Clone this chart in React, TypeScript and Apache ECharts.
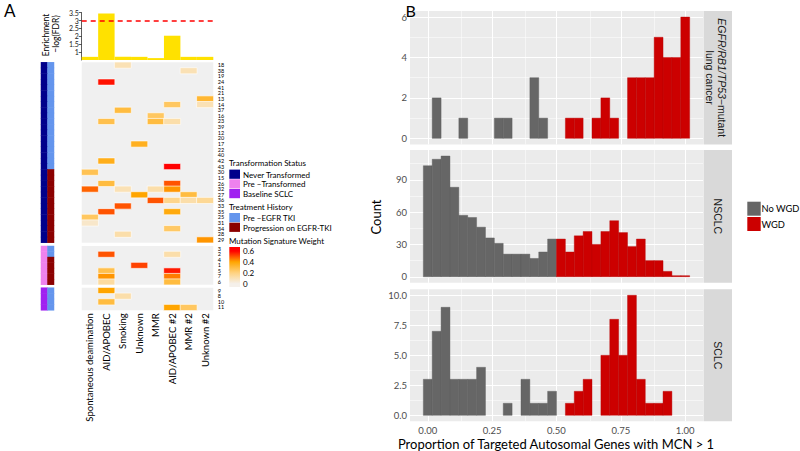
import React, { useEffect, useRef } from 'react';
import * as echarts from 'echarts';

// ---------- Panel A data ----------
const signatures = ['Spontaneous deamination', 'AID/APOBEC', 'Smoking', 'Unknown', 'MMR', 'AID/APOBEC #2', 'MMR #2', 'Unknown #2'];
const enrichment = [0.7, 3.45, 0.7, 0.7, 0.62, 2.04, 0.7, 0.7];
const fdrThreshold = 3;
const enrichTicks = [1, 1.5, 2, 2.5, 3, 3.5];

const neverRows = ['18', '38', '19', '24', '41', '21', '13', '14', '37', '16', '23', '39', '12', '20', '17', '22', '40', '42', '43', '30', '15', '26', '32', '27', '36', '33', '35', '25', '31', '34', '28', '29'];
const preRows = ['3', '2', '4', '1', '5', '7', '6'];
const sclcRows = ['9', '8', '10', '11'];

const neverTreatment = ['pre', 'pre', 'pre', 'pre', 'pre', 'pre', 'pre', 'pre', 'pre', 'pre', 'pre', 'pre', 'pre', 'pre', 'pre', 'pre', 'pre', 'pre', 'pre', 'prog', 'prog', 'prog', 'prog', 'prog', 'prog', 'prog', 'prog', 'prog', 'prog', 'prog', 'prog', 'prog', 'prog'];
const preTreatment = ['pre', 'pre', 'prog', 'prog', 'prog', 'prog', 'prog'];
const sclcTreatment = ['pre', 'pre', 'pre', 'pre'];

// [row label, signature index, weight]
const neverWeights: [string, number, number][] = [
  ['18', 2, 0.1], ['38', 6, 0.1], ['24', 1, 0.58], ['13', 7, 0.32], ['14', 5, 0.25], ['14', 7, 0.1],
  ['37', 2, 0.3], ['16', 4, 0.25], ['23', 1, 0.28], ['23', 4, 0.3], ['23', 5, 0.12], ['17', 3, 0.35],
  ['42', 1, 0.36], ['43', 5, 0.62], ['30', 0, 0.27], ['26', 1, 0.3], ['26', 5, 0.5], ['32', 0, 0.48],
  ['32', 2, 0.1], ['32', 4, 0.12], ['32', 5, 0.42], ['27', 3, 0.4], ['27', 6, 0.3], ['36', 4, 0.5],
  ['36', 5, 0.18], ['36', 6, 0.12], ['36', 7, 0.16], ['33', 2, 0.5], ['35', 1, 0.5], ['35', 5, 0.38],
  ['25', 0, 0.25], ['31', 0, 0.06], ['34', 5, 0.24], ['28', 2, 0.12], ['29', 7, 0.42],
];
const preWeights: [string, number, number][] = [
  ['2', 1, 0.5], ['2', 5, 0.12], ['1', 3, 0.52], ['5', 1, 0.28], ['5', 5, 0.57],
  ['7', 1, 0.42], ['7', 5, 0.45], ['6', 1, 0.14], ['6', 5, 0.3],
];
const sclcWeights: [string, number, number][] = [
  ['9', 1, 0.4], ['8', 2, 0.12], ['10', 1, 0.3], ['11', 5, 0.4], ['11', 6, 0.25],
];
const weightColors = ['#F5F0EA', '#FFD280', '#FFA500', '#FF0000'];
const weightLegendLabels = ['0.6', '0.4', '0.2', '0'];

// ---------- Panel B data ----------
const BIN_WIDTH = 1 / 29;
const WGD_CUTOFF = 0.5;
const egfrCounts = [0, 2, 0, 0, 1, 0, 0, 0, 1, 1, 0, 0, 3, 1, 0, 0, 1, 1, 0, 1, 2, 1, 0, 3, 3, 3, 5, 4, 4, 6];
const nsclcCounts = [103, 109, 112, 83, 57, 55, 46, 36, 31, 21, 21, 21, 17, 23, 35, 35, 23, 38, 42, 30, 42, 52, 41, 28, 35, 15, 15, 5, 1, 1];
const sclcCounts = [3, 7, 9, 3, 3, 3, 4, 0, 0, 1, 0, 3, 1, 1, 2, 0, 1, 2, 3, 0, 5, 8, 5, 10, 3, 1, 1, 2, 0, 0];
const xTicks = [0, 0.25, 0.5, 0.75, 1];
const xMinor = [0.125, 0.375, 0.625, 0.875];
const egfrTicks = [0, 2, 4, 6];
const egfrMinor = [1, 3, 5];
const nsclcTicks = [0, 30, 60, 90];
const nsclcMinor = [15, 45, 75, 105];
const sclcTicks = [0, 2.5, 5, 7.5, 10];
const sclcMinor = [1.25, 3.75, 6.25, 8.75];

const FONT = 'Lato';
const NAVY = '#00008B', VIOLET = '#EE82EE', PURPLE = '#A020F0', BLUE = '#6495ED', DKRED = '#8B0000';
const GRAY = '#666666', RED = '#CC0000';

function buildOption() {
  const hmLeft = 81.7, hmWidth = 131.6;
  const blocks = [
    { rows: neverRows, weights: neverWeights, status: 0, treat: neverTreatment, top: 62.3, height: 180.4 },
    { rows: preRows, weights: preWeights, status: 1, treat: preTreatment, top: 246, height: 38.7 },
    { rows: sclcRows, weights: sclcWeights, status: 2, treat: sclcTreatment, top: 287.7, height: 22.6 },
  ];
  const facets = [
    { counts: egfrCounts, ticks: egfrTicks, minor: egfrMinor, top: 11, height: 133.4, max: 6, fmt: (v: number) => String(v), label: 'egfr' },
    { counts: nsclcCounts, ticks: nsclcTicks, minor: nsclcMinor, top: 150, height: 132.8, max: 112, fmt: (v: number) => String(v), label: 'NSCLC' },
    { counts: sclcCounts, ticks: sclcTicks, minor: sclcMinor, top: 289.3, height: 132, max: 10, fmt: (v: number) => v.toFixed(1), label: 'SCLC' },
  ];
  const hLeft = 410, hWidth = 293;
  const xMin = -0.069, xMax = 1.069;

  const grid: any[] = [];
  const xAxis: any[] = [];
  const yAxis: any[] = [];
  const series: any[] = [];

  // grid 0: enrichment bars
  grid.push({ left: hmLeft, top: 12.7, width: hmWidth, height: 47.3, outerBoundsMode: 'none' });
  xAxis.push({ type: 'category', gridIndex: 0, data: signatures, show: false, boundaryGap: true });
  yAxis.push({
    type: 'value', gridIndex: 0, min: 0.5, max: 3.5,
    axisLine: { show: true, lineStyle: { color: '#333', width: 0.8 } },
    axisTick: { show: true, length: 3, customValues: enrichTicks, lineStyle: { color: '#333', width: 0.8 } },
    axisLabel: { show: true, customValues: enrichTicks, fontSize: 7, margin: 3, color: '#222', fontFamily: FONT },
    splitLine: { show: false },
  });
  series.push({
    type: 'bar', xAxisIndex: 0, yAxisIndex: 0, data: enrichment, barWidth: '100%', barGap: 0, clip: true,
    itemStyle: { color: '#FFE100' }, silent: true,
    markLine: {
      silent: true, symbol: ['none', 'none'], label: { show: false },
      lineStyle: { color: '#FF0000', type: [5, 4], width: 1.5 },
      data: [{ yAxis: fdrThreshold }],
    },
  });

  // grids 1-3: heatmap blocks
  blocks.forEach((b, i) => {
    grid.push({ left: hmLeft, top: b.top, width: hmWidth, height: b.height, show: true, backgroundColor: '#F0F0F0', borderWidth: 0, outerBoundsMode: 'none' });
    const last = i === blocks.length - 1;
    xAxis.push({
      type: 'category', gridIndex: 1 + i, data: signatures,
      axisLine: { show: false }, axisTick: { show: false }, splitLine: { show: false },
      axisLabel: { show: last, rotate: 90, fontSize: 9.5, margin: 3, color: '#000', fontFamily: FONT, interval: 0 },
    });
    yAxis.push({
      type: 'category', gridIndex: 1 + i, data: b.rows, inverse: true, position: 'right',
      axisLine: { show: false }, axisTick: { show: false }, splitLine: { show: false },
      axisLabel: { show: true, fontSize: 5.5, margin: 4.5, color: '#000', fontFamily: FONT, interval: 0 },
    });
  });
  blocks.forEach((b, i) => {
    series.push({
      type: 'heatmap', xAxisIndex: 1 + i, yAxisIndex: 1 + i, silent: true,
      data: b.weights.map(([r, c, w]) => [c, b.rows.indexOf(r), w]),
      itemStyle: { borderColor: '#FFFFFF', borderWidth: 0.6 },
    });
  });

  // grids 4-6: annotation columns
  blocks.forEach((b, i) => {
    grid.push({ left: 41, top: b.top, width: 13, height: b.height, outerBoundsMode: 'none' });
    xAxis.push({ type: 'category', gridIndex: 4 + i, data: ['status', 'treatment'], show: false });
    yAxis.push({ type: 'category', gridIndex: 4 + i, data: b.rows, inverse: true, show: false });
  });
  blocks.forEach((b, i) => {
    const data: number[][] = [];
    b.rows.forEach((_, r) => {
      data.push([0, r, b.status]);
      data.push([1, r, b.treat[r] === 'pre' ? 3 : 4]);
    });
    series.push({ type: 'heatmap', xAxisIndex: 4 + i, yAxisIndex: 4 + i, silent: true, data });
  });

  // grids 7-9: histograms
  facets.forEach((f, i) => {
    const gi = 7 + i;
    const last = i === facets.length - 1;
    const pad = f.max * 0.05;
    grid.push({ left: hLeft, top: f.top, width: hWidth, height: f.height, show: true, backgroundColor: '#EBEBEB', borderWidth: 0, outerBoundsMode: 'none' });
    xAxis.push({
      type: 'value', gridIndex: gi, min: xMin, max: xMax,
      axisLine: { show: false }, splitLine: { show: false },
      axisTick: { show: last, length: 3, customValues: xTicks, lineStyle: { color: '#333', width: 0.8 } },
      axisLabel: { show: last, customValues: xTicks, formatter: (v: number) => v.toFixed(2), fontSize: 9.5, margin: 4, color: '#4D4D4D', fontFamily: FONT },
    });
    yAxis.push({
      type: 'value', gridIndex: gi, min: -pad, max: f.max + pad,
      axisLine: { show: false }, splitLine: { show: false },
      axisTick: { show: true, length: 3, customValues: f.ticks, lineStyle: { color: '#333', width: 0.8 } },
      axisLabel: { show: true, customValues: f.ticks, formatter: f.fmt, fontSize: 9.5, margin: 3, color: '#4D4D4D', fontFamily: FONT },
    });
    const gridLines = [
      ...xTicks.map((v) => ({ xAxis: v, lineStyle: { width: 1.1 } })),
      ...xMinor.map((v) => ({ xAxis: v, lineStyle: { width: 0.5 } })),
      ...f.ticks.map((v) => ({ yAxis: v, lineStyle: { width: 1.1 } })),
      ...f.minor.map((v) => ({ yAxis: v, lineStyle: { width: 0.5 } })),
    ];
    series.push({
      type: 'custom', xAxisIndex: gi, yAxisIndex: gi, silent: true, z: 3,
      encode: { x: 0, y: 1 },
      data: f.counts.map((c, k) => [k * BIN_WIDTH, c]),
      renderItem: (params: any, api: any) => {
        const center = api.value(0);
        const count = api.value(1);
        if (!count) return null;
        const tl = api.coord([center - BIN_WIDTH / 2, count]);
        const br = api.coord([center + BIN_WIDTH / 2, 0]);
        const wgd = center >= WGD_CUTOFF;
        return {
          type: 'rect',
          shape: { x: tl[0], y: tl[1], width: br[0] - tl[0], height: br[1] - tl[1] },
          style: { fill: wgd ? RED : GRAY, stroke: wgd ? '#B50000' : '#5A5A5A', lineWidth: 0.4 },
        };
      },
      markLine: {
        silent: true, z: 1, symbol: ['none', 'none'], label: { show: false },
        lineStyle: { color: '#FFFFFF', type: 'solid' },
        data: gridLines,
      },
    });
  });

  const txt = (text: string, x: number, y: number, extra: any = {}, elExtra: any = {}) => ({
    type: 'text', x, y, silent: true, ...elExtra,
    style: { text, fontFamily: FONT, fontSize: 8, fill: '#000', align: 'left', verticalAlign: 'middle', ...extra },
  });
  const key = (x: number, cy: number, w: number, h: number, fill: string) => ({
    type: 'rect', silent: true, shape: { x, y: cy - h / 2, width: w, height: h }, style: { fill },
  });

  const graphic: any[] = [
    txt('A', 4, 10, { fontSize: 17 }),
    txt('B', 405.5, 10, { fontSize: 16 }),
    txt('Enrichment', 45.5, 35, { fontSize: 8.5, align: 'center' }, { rotation: Math.PI / 2 }),
    txt('−log(FDR)', 55.5, 34, { fontSize: 8.5, align: 'center' }, { rotation: Math.PI / 2 }),
    // Panel A legend
    txt('Transformation Status', 229, 162.7),
    key(229.3, 174.2, 10.7, 9.2, NAVY), txt('Never Transformed', 243, 174.7),
    key(229.3, 183.9, 10.7, 9.2, VIOLET), txt('Pre −Transformed', 243, 184.3),
    key(229.3, 193.6, 10.7, 9.2, PURPLE), txt('Baseline SCLC', 243, 194),
    txt('Treatment History', 229, 206.7),
    key(229.3, 217.6, 10.7, 9.2, BLUE), txt('Pre −EGFR TKI', 243, 218.3),
    key(229.3, 227.3, 10.7, 9.2, DKRED), txt('Progression on EGFR-TKI', 243, 228.3),
    txt('Mutation Signature Weight', 229, 240.7),
    {
      type: 'rect', silent: true, shape: { x: 229.3, y: 247, width: 10.7, height: 40 },
      style: {
        fill: new echarts.graphic.LinearGradient(0, 0, 0, 1, [
          { offset: 0, color: weightColors[3] }, { offset: 0.1, color: weightColors[3] },
          { offset: 0.372, color: weightColors[2] }, { offset: 0.645, color: weightColors[1] },
          { offset: 0.918, color: weightColors[0] }, { offset: 1, color: weightColors[0] },
        ]),
      },
    },
    ...weightLegendLabels.map((l, i) => txt(l, 243, 251 + i * 10.9)),
    // Panel B titles
    txt('Count', 376, 217, { fontSize: 13, align: 'center' }, { rotation: Math.PI / 2 }),
    txt('Proportion of Targeted Autosomal Genes with MCN > 1', 556, 444, { fontSize: 13, align: 'center' }),
    // Panel B legend
    key(747.3, 208.7, 13.4, 14, GRAY), txt('No WGD', 761.5, 208.5, { fontSize: 9.3 }),
    key(747.3, 224, 13.4, 14, RED), txt('WGD', 761.5, 224, { fontSize: 9.3 }),
  ];
  // strips
  facets.forEach((f) => {
    const cy = f.top + f.height / 2;
    graphic.push({ type: 'rect', silent: true, shape: { x: 703.5, y: f.top, width: 28.5, height: f.height }, style: { fill: '#D9D9D9' } });
    if (f.label === 'egfr') {
      graphic.push({
        type: 'text', x: 716, y: cy, rotation: -Math.PI / 2, silent: true,
        style: {
          text: '{i|EGFR/RB1/TP53}−mutant\nlung cancer', fontFamily: 'Liberation Sans', fontSize: 10.5, fill: '#1A1A1A',
          align: 'center', verticalAlign: 'middle', lineHeight: 12.4,
          rich: { i: { fontStyle: 'italic', fontFamily: 'Liberation Sans', fontSize: 10.5, fill: '#1A1A1A', lineHeight: 12.4 } },
        },
      });
    } else {
      graphic.push({
        type: 'text', x: 718, y: cy, rotation: -Math.PI / 2, silent: true,
        style: { text: f.label, fontFamily: 'Liberation Sans', fontSize: 10.5, fill: '#1A1A1A', align: 'center', verticalAlign: 'middle' },
      });
    }
  });

  return {
    animation: false,
    backgroundColor: '#FFFFFF',
    textStyle: { fontFamily: FONT },
    grid, xAxis, yAxis, series, graphic,
    visualMap: [
      { type: 'continuous', show: false, seriesIndex: [1, 2, 3], min: 0, max: 0.6, inRange: { color: weightColors } },
      {
        type: 'piecewise', show: false, seriesIndex: [4, 5, 6],
        pieces: [
          { value: 0, color: NAVY }, { value: 1, color: VIOLET }, { value: 2, color: PURPLE },
          { value: 3, color: BLUE }, { value: 4, color: DKRED },
        ],
      },
    ],
  };
}

export default function App() {
  const ref = useRef<HTMLDivElement>(null);
  useEffect(() => {
    const chart = echarts.init(ref.current!, undefined, { renderer: 'svg' });
    chart.setOption(buildOption() as any);
    return () => chart.dispose();
  }, []);
  return <div ref={ref} style={{ width: 800, height: 451, position: 'absolute', left: 0, top: 0 }} />;
}
